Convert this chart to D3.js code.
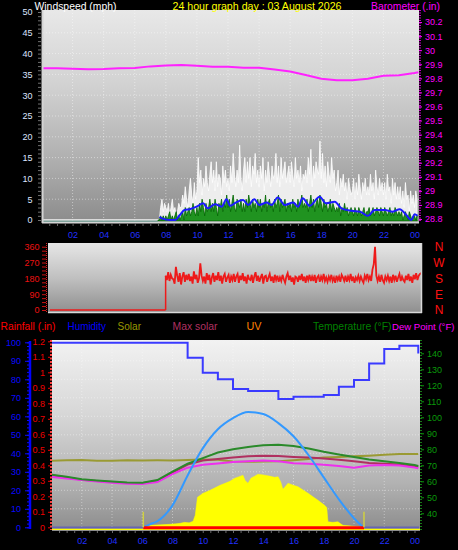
<!DOCTYPE html>
<html><head><meta charset="utf-8">
<script src="https://cdn.jsdelivr.net/npm/d3@7"></script>
<style>body{margin:0;background:#000;overflow:hidden}svg{display:block}</style>
</head><body>
<svg id="c" width="458" height="550"></svg>
<script>
// ---------------- DATA ----------------
const hourTicks = [2,4,6,8,10,12,14,16,18,20,22,24];
const hourLabels = ["02","04","06","08","10","12","14","16","18","20","22","00"];

// Panel 1 : wind (mph) and barometer (in)
const windTicks = [0,5,10,15,20,25,30,35,40,45,50];
const baroTicks = [28.8,28.9,29.0,29.1,29.2,29.3,29.4,29.5,29.6,29.7,29.8,29.9,30.0,30.1,30.2];
const baroTickLabels = ["28.8","28.9","29","29.1","29.2","29.3","29.4","29.5","29.6","29.7","29.8","29.9","30","30.1","30.2"];
const baroHours = [0,1,2,3,4,5,6,7,8,9,10,11,12,13,14,15,16,17,18,19,20,21,22,23,24,24.25];
const baro = [29.871,29.871,29.868,29.864,29.866,29.871,29.874,29.885,29.891,29.894,29.889,29.882,29.882,29.876,29.875,29.862,29.849,29.823,29.797,29.786,29.786,29.797,29.818,29.822,29.838,29.843];
const calmSpan = [0.1, 7.5];          // hours with zero wind
const windStart = 7.5;               // first 5-minute sample (hour)
const windStep = 1/12;               // 5 minutes
const gust = [
0,0,3,5,2,4,
3,2,4,1,3,5,2,3,1,2,4,3,
3,6,4,8,5,3,7,10,6,4,9,5,
7,15,9,12,6,10,8,13,9,7,11,14,
9,12,7,14,8,11,10,6,13,9,12,8,
10,7,13,9,16,11,8,12,9,18,10,7,
12,15,9,14,10,15,8,13,11,16,9,12,
8,13,10,15,7,12,9,14,11,8,13,10,
11,16,9,13,8,15,10,12,14,9,11,13,
9,14,11,8,15,10,12,9,13,7,11,10,
12,9,15,11,17,8,13,10,14,12,11,19,
10,16,9,13,8,14,11,9,15,10,12,7,
9,12,6,10,8,11,7,9,5,10,8,6,
7,10,5,9,6,11,8,5,9,7,10,6,
8,6,11,7,9,5,12,8,6,10,7,9,
6,9,5,11,7,8,4,10,6,9,5,8,
5,8,4,7,3,9,5,6,2,7,4,6,
3,7,5];
const windSpd = [
0,0,1,0,1,0,
1,0,1,2,0,1,0,1,2,0,1,0,
1,2,0,3,1,2,3,1,2,4,2,1,
3,1,4,2,5,3,1,4,2,3,5,2,
4,2,5,3,1,4,3,5,2,4,3,6,
3,5,2,4,6,3,2,5,4,3,5,2,
4,2,5,3,6,4,2,5,3,4,2,5,
3,5,2,4,3,6,2,4,5,3,4,2,
5,3,4,6,2,5,3,4,5,2,4,3,
4,2,5,3,4,2,5,3,4,6,3,4,
3,5,2,4,6,3,5,2,4,5,3,6,
4,2,5,3,4,2,3,5,2,4,3,2,
3,2,4,1,3,2,4,2,3,1,2,3,
2,1,3,2,1,3,2,1,2,3,1,2,
2,3,1,2,3,1,2,3,2,1,3,2,
1,3,2,1,2,3,1,2,1,3,2,1,
2,1,2,0,1,2,1,0,2,1,0,1,
1,0,1];
const avgHours = [7.6,7.75,8.27,8.6,8.9,9.2,9.55,9.98,10.4,10.7,11.16,11.6,11.9,12.15,12.5,12.97,13.3,13.7,14.0,14.5,14.8,15.2,15.65,16.2,16.5,16.8,17.26,17.9,18.3,18.87,19.3,19.94,20.5,21.0,21.44,22.1,22.6,23.05,23.47,23.8,24.0,24.2];
const avgWind = [0.8,0.4,0,0,1.2,2.4,2.6,3.2,4,2.8,3.8,3.2,5,3.4,4.2,4.8,3.6,5,3.6,4.2,3.6,5.4,3.6,4.2,3.2,5.2,3.4,5.6,4,4.4,2.8,2.2,2,1,2.4,2.4,2,2.6,1.2,0,1.4,1];

// Panel 2 : wind direction (degrees)
const dirTicks = [0,90,180,270,360];
const compassLabels = ["N","E","S","W","N"];
const dirCalmSpan = [0, 7.5];
const dirStart = 7.5, dirStep = 1/12;
const direction = [
195,170,215,165,200,180,
175,150,245,195,160,210,145,190,215,160,200,170,
205,165,190,150,220,175,200,155,180,265,195,165,
190,150,210,170,200,145,185,210,160,195,170,215,
165,195,150,190,205,160,185,200,155,190,170,205,
160,190,205,155,195,170,210,165,190,150,200,175,
170,200,155,190,215,165,195,160,185,205,150,190,
195,160,185,205,165,190,155,200,170,195,160,185,
165,200,175,155,190,210,170,195,160,185,145,190,
185,160,195,170,205,165,190,155,195,170,200,165,
190,165,200,155,185,195,160,190,170,205,165,185,
160,190,170,200,165,185,155,195,170,190,160,200,
185,165,195,160,190,170,205,165,190,155,185,170,
195,165,190,170,155,195,175,205,170,190,165,230,
260,360,195,165,190,160,200,170,155,190,170,195,
165,190,155,200,170,195,160,185,205,165,190,170,
160,195,170,205,165,190,155,200,175,210,170,195,
205,210,205];

// Panel 3 : rain / humidity / solar / temperatures
const humTicks = [0,10,20,30,40,50,60,70,80,90,100];
const rainTicks = [0,0.1,0.2,0.3,0.4,0.5,0.6,0.7,0.8,0.9,1.0,1.1,1.2];
const rainTickLabels = ["0","0.1","0.2","0.3","0.4","0.5","0.6","0.7","0.8","0.9","1","1.1","1.2"];
const tempTicks = [40,50,60,70,80,90,100,110,120,130,140];
const hrs = [0,1,2,3,4,5,6,7,8,9,10,11,12,13,14,15,16,17,18,19,20,21,22,23,24,24.25];
const humidity = [99.7,99.7,99.7,99.7,99.7,99.7,99.7,99.7,99.7,91.6,83.5,80,74.8,73.7,73.7,69.3,70.6,70.6,71.5,76,79.6,88.6,96.4,98.2,98.2,94];
const temperature = [64.2,62.8,61.3,60.5,59.8,59.2,59.1,60.8,66,71,74.5,78,80,81.5,82.5,82.8,82,80.5,78.5,76.8,75.2,73.6,72.6,71.5,70.2,69.6];
const dewPoint = [62.8,61.8,60.8,59.8,59.1,58.5,58.3,59.5,64.5,68.5,70.3,71.2,72,72.6,73,72.6,71.3,71,70.4,69.6,68.4,69.8,70.2,69.8,68.6,68.1];
const apparent = [63.8,62.4,61,60.2,59.5,59,58.8,60.3,65.5,70.5,73,74,74.8,75.6,76,75.8,75.2,74.8,74.3,73.5,72.5,71.5,71,70.5,69.4,69.1];
const indoor = [72.9,73.2,73.3,72.8,72.9,73.2,73,73.1,73,73.3,73.6,73.4,72.4,72.2,72.3,72.6,73.2,74,74.8,75.2,75.6,76,76.6,77,77.1,77.1];
const maxSolarHours = [6.07,6.5,7,8,9,10,11,12,13,14,15,16,17,18,19,20,20.6];
const maxSolar = [0,24,49,178,420,640,795,885,935,918,845,738,584,405,227,73,0];
const solarHours = [6.07,6.2,6.6,7.2,7.8,8.2,8.5,8.8,9.1,9.36,9.5,9.65,10.0,10.48,11.14,11.8,12.11,12.4,12.66,12.8,12.99,13.2,13.43,13.65,14.0,14.4,14.76,14.98,15.15,15.3,15.64,16.0,16.3,16.96,17.62,18.06,18.2,18.28,18.6,18.94,19.1,19.27,20.05,20.6];
const solar = [0,4,16,20,24,28,32,40,36,49,97,243,275,300,340,373,397,410,422,380,357,400,414,430,425,415,405,410,370,308,357,340,329,276,219,178,160,45,40,45,30,16,8,0];
const sunEvents = [6.07, 20.66];     // sunrise / sunset markers
const rainHours = [6.07, 20.66];
const rainfall = [0, 0];

// ---------------- DRAWING ----------------
const FONT = '"Liberation Sans", Arial, sans-serif';
const svg = d3.select("#c");
const defs = svg.append("defs");
function grad(id, stops){
  const g = defs.append("linearGradient").attr("id",id).attr("x1",0).attr("y1",0).attr("x2",0).attr("y2",1);
  stops.forEach(([o,c]) => g.append("stop").attr("offset",o).attr("stop-color",c));
}
function clip(id,x,y,w,h){ defs.append("clipPath").attr("id",id).append("rect").attr("x",x).attr("y",y).attr("width",w).attr("height",h); }
grad("g1", [[0,"#e8e8e8"],[0.35,"#d2d2d2"],[0.7,"#b0b0b0"],[1,"#8c8c8c"]]);
grad("g2", [[0,"#e6e6e6"],[0.5,"#c0c0c0"],[1,"#8e8e8e"]]);
grad("g3", [[0,"#f2f2f2"],[0.4,"#d6d6d6"],[0.75,"#b2b2b2"],[1,"#8c8c8c"]]);
clip("c1", 43, 10, 376, 212);
clip("c2", 48, 243, 374, 69);
clip("c3", 52, 340, 368, 190);

function styleAxis(g, color, size){
  g.attr("font-family", FONT).attr("font-size", size || 9);
  g.select(".domain").remove();
  g.selectAll("text").attr("fill", color);
  g.selectAll("line").attr("stroke", color);
  return g;
}
function label(txt, x, y, w, color, size){
  const t = svg.append("text").attr("x",x).attr("y",y).attr("fill",color)
    .attr("font-family",FONT).attr("font-size",size||11).text(txt);
  if (w) t.attr("textLength",w).attr("lengthAdjust","spacingAndGlyphs");
}

// ===== Panel 1 =====
const xW = d3.scaleLinear([0,24],[41.5,414.5]);
const yW = d3.scaleLinear([0,50],[220,12]);
const yB = d3.scaleLinear([28.8,30.3],[219,8]);

svg.append("rect").attr("x",43).attr("y",10).attr("width",376).attr("height",212).attr("fill","url(#g1)");
const p1 = svg.append("g").attr("clip-path","url(#c1)");
p1.selectAll(".hg").data(windTicks.slice(1,-1)).join("line")
  .attr("x1",43).attr("x2",419).attr("y1",d=>yW(d)).attr("y2",d=>yW(d))
  .attr("stroke","#fff").attr("stroke-opacity",0.45).attr("stroke-dasharray","1,2");
p1.selectAll(".vg").data(hourTicks.slice(0,-1)).join("line")
  .attr("x1",d=>xW(d)).attr("x2",d=>xW(d)).attr("y1",10).attr("y2",222)
  .attr("stroke","#fff").attr("stroke-opacity",0.45).attr("stroke-dasharray","1,2");
p1.append("path").datum(baro).attr("fill","none").attr("stroke","#ff22ff").attr("stroke-width",2)
  .attr("d", d3.line().x((d,i)=>xW(baroHours[i])).y(d=>yB(d)));
p1.append("line").attr("x1",xW(calmSpan[0])).attr("x2",xW(calmSpan[1])).attr("y1",yW(0)).attr("y2",yW(0))
  .attr("stroke","#f4f4f4").attr("stroke-width",1.5);
p1.append("line").attr("x1",xW(calmSpan[0])).attr("x2",xW(calmSpan[1])).attr("y1",yW(0)+1.6).attr("y2",yW(0)+1.6)
  .attr("stroke","#2a7060").attr("stroke-width",1.5);
p1.append("path").datum(gust).attr("fill","#f3f3f3").attr("fill-opacity",0.93)
  .attr("stroke","#ffffff").attr("stroke-width",0.8)
  .attr("d", d3.area().x((d,i)=>xW(windStart+i*windStep)).y0(yW(0)).y1(d=>yW(d)));
p1.append("path").datum(windSpd).attr("fill","#0a8a0a").attr("fill-opacity",0.9)
  .attr("stroke","#006400").attr("stroke-width",0.8)
  .attr("d", d3.area().x((d,i)=>xW(windStart+i*windStep)).y0(yW(0)+1).y1(d=>yW(d)));
p1.append("path").datum(avgWind).attr("fill","none").attr("stroke","#1a1aff").attr("stroke-width",2)
  .attr("d", d3.line().curve(d3.curveMonotoneX).x((d,i)=>xW(avgHours[i])).y(d=>yW(d)));
svg.append("line").attr("x1",42.5).attr("x2",42.5).attr("y1",10).attr("y2",223).attr("stroke","#d4d4d4").attr("stroke-width",2);
svg.append("line").attr("x1",42).attr("x2",419).attr("y1",222.5).attr("y2",222.5).attr("stroke","#d4d4d4").attr("stroke-width",2);
styleAxis(svg.append("g").attr("transform","translate(41,0)")
  .call(d3.axisLeft(yW).tickValues(windTicks).tickSize(0).tickPadding(8.5)), "#dde4ff");
styleAxis(svg.append("g").attr("transform","translate(41,0)")
  .call(d3.axisLeft(yW).tickValues(d3.range(0,50.5,1)).tickSize(3).tickFormat(()=>"")), "#707070");
styleAxis(svg.append("g").attr("transform","translate(0,225)")
  .call(d3.axisBottom(xW).tickValues(hourTicks).tickSize(0).tickPadding(6.5).tickFormat((d,i)=>hourLabels[i])), "#2030ff");
styleAxis(svg.append("g").attr("transform","translate(0,224)")
  .call(d3.axisBottom(xW).tickValues(d3.range(0.5,24.1,0.5)).tickSize(2).tickFormat(()=>"")), "#6a6a6a");
svg.append("line").attr("x1",420).attr("x2",420).attr("y1",10).attr("y2",222)
  .attr("stroke","#ff00ff").attr("stroke-width",1.5).attr("stroke-dasharray","1,1.5");
styleAxis(svg.append("g").attr("transform","translate(419,0)")
  .call(d3.axisRight(yB).tickValues(baroTicks).tickSize(3).tickPadding(3).tickFormat((d,i)=>baroTickLabels[i])), "#ff00ff");

// ===== Panel 2 =====
const xD = d3.scaleLinear([0,24],[50,420]);
const yD = d3.scaleLinear([0,360],[310,246.7]);
svg.append("rect").attr("x",48).attr("y",243).attr("width",374).attr("height",70).attr("fill","url(#g2)");
const p2 = svg.append("g").attr("clip-path","url(#c2)");
p2.append("line").attr("x1",xD(dirCalmSpan[0])).attr("x2",xD(dirCalmSpan[1])).attr("y1",yD(0)).attr("y2",yD(0))
  .attr("stroke","#ee1a1a").attr("stroke-width",1.5);
p2.append("line").attr("x1",xD(dirCalmSpan[1])).attr("x2",xD(dirCalmSpan[1])).attr("y1",yD(0)).attr("y2",yD(direction[0]))
  .attr("stroke","#ee1a1a").attr("stroke-width",1.5);
p2.append("path").datum(direction).attr("fill","none").attr("stroke","#ee1a1a").attr("stroke-width",1.8)
  .attr("d", d3.line().x((d,i)=>xD(dirStart+i*dirStep)).y(d=>yD(d)));
svg.append("line").attr("x1",48).attr("x2",422).attr("y1",312.5).attr("y2",312.5).attr("stroke","#d8d8d8").attr("stroke-width",1.5);
svg.append("line").attr("x1",421.5).attr("x2",421.5).attr("y1",243).attr("y2",313).attr("stroke","#d8d8d8").attr("stroke-width",1.5);
svg.append("line").attr("x1",46.5).attr("x2",46.5).attr("y1",243).attr("y2",312).attr("stroke","#dd2222").attr("stroke-width",1).attr("stroke-dasharray","1,1");
styleAxis(svg.append("g").attr("transform","translate(46,0)")
  .call(d3.axisLeft(yD).tickValues(dirTicks).tickSize(0).tickPadding(6.5)), "#ee1111");
styleAxis(svg.append("g").attr("transform","translate(46,0)")
  .call(d3.axisLeft(yD).tickValues(d3.range(0,361,22.5)).tickSize(4).tickFormat(()=>"")), "#cc1111");
const comp = styleAxis(svg.append("g").attr("transform","translate(433,0)")
  .call(d3.axisRight(yD).tickValues(dirTicks).tickSize(0).tickPadding(6).tickFormat((d,i)=>compassLabels[i])), "#ff1010", 12);
comp.selectAll("text").attr("text-anchor","middle");

// ===== Panel 3 =====
const xS = d3.scaleLinear([0,24],[51.5,414.5]);
const yH = d3.scaleLinear([0,100],[527.3,342.3]);
const yR = d3.scaleLinear([0,1.2],[527.3,341.3]);
const yT = d3.scaleLinear([30,140],[529.3,353.3]);
const ySol = d3.scaleLinear([0,1500],[527.3,342.3]);
svg.append("rect").attr("x",52).attr("y",340).attr("width",368).attr("height",191).attr("fill","url(#g3)");
const p3 = svg.append("g").attr("clip-path","url(#c3)");
p3.selectAll(".hg").data(humTicks.slice(1,-1)).join("line")
  .attr("x1",52).attr("x2",420).attr("y1",d=>yH(d)).attr("y2",d=>yH(d))
  .attr("stroke","#fff").attr("stroke-opacity",0.4).attr("stroke-dasharray","1,2");
p3.selectAll(".vg").data(hourTicks.slice(0,-1)).join("line")
  .attr("x1",d=>xS(d)).attr("x2",d=>xS(d)).attr("y1",340).attr("y2",530)
  .attr("stroke","#fff").attr("stroke-opacity",0.4).attr("stroke-dasharray","1,2");
p3.append("path").datum(solar).attr("fill","#ffff00").attr("stroke","#ffff00").attr("stroke-width",0.5)
  .attr("d", d3.area().x((d,i)=>xS(solarHours[i])).y0(ySol(0)).y1(d=>ySol(d)));
const tl = arr => d3.line().x((d,i)=>xS(hrs[i])).y(d=>yT(d))(arr);
p3.append("path").attr("d",tl(indoor)).attr("fill","none").attr("stroke","#9a9a33").attr("stroke-width",2);
p3.append("path").attr("d",tl(apparent)).attr("fill","none").attr("stroke","#b03060").attr("stroke-width",2);
p3.append("path").attr("d",tl(dewPoint)).attr("fill","none").attr("stroke","#ee30ee").attr("stroke-width",2);
p3.append("path").attr("d",tl(temperature)).attr("fill","none").attr("stroke","#2a8a2a").attr("stroke-width",2);
p3.append("path").datum(maxSolar).attr("fill","none").attr("stroke","#3399ff").attr("stroke-width",2)
  .attr("d", d3.line().curve(d3.curveMonotoneX).x((d,i)=>xS(maxSolarHours[i])).y(d=>ySol(d)));
p3.append("path").datum(humidity).attr("fill","none").attr("stroke","#3a3aff").attr("stroke-width",2)
  .attr("d", d3.line().curve(d3.curveStepAfter).x((d,i)=>xS(hrs[i])).y(d=>yH(d)));
p3.append("line").attr("x1",52).attr("x2",420).attr("y1",yR(0)+2.6).attr("y2",yR(0)+2.6).attr("stroke","#ffff00").attr("stroke-width",2.2);
p3.append("line").attr("x1",xS(0)).attr("x2",xS(sunEvents[0])).attr("y1",yR(0)).attr("y2",yR(0)).attr("stroke","#6464b4").attr("stroke-width",1.8);
p3.append("line").attr("x1",xS(sunEvents[1])).attr("x2",xS(24.3)).attr("y1",yR(0)).attr("y2",yR(0)).attr("stroke","#6464b4").attr("stroke-width",1.8);
p3.append("path").datum(rainfall).attr("fill","none").attr("stroke","#ff0000").attr("stroke-width",3)
  .attr("d", d3.line().x((d,i)=>xS(rainHours[i])).y(d=>yR(d)+0.5));
p3.selectAll(".sun").data(sunEvents).join("line")
  .attr("x1",d=>xS(d)).attr("x2",d=>xS(d)).attr("y1",yR(0)).attr("y2",yR(0.1))
  .attr("stroke","#d0d040").attr("stroke-width",1.5);
svg.append("line").attr("x1",30).attr("x2",30).attr("y1",341).attr("y2",529).attr("stroke","#0000ff").attr("stroke-width",2.5);
styleAxis(svg.append("g").attr("transform","translate(29,0)")
  .call(d3.axisLeft(yH).tickValues(humTicks).tickSize(4).tickPadding(4)), "#0a0aff");
styleAxis(svg.append("g").attr("transform","translate(29,0)")
  .call(d3.axisLeft(yH).tickValues(d3.range(0,100.1,2)).tickSize(2).tickFormat(()=>"")), "#0a0aff");
svg.append("line").attr("x1",51).attr("x2",51).attr("y1",340).attr("y2",530).attr("stroke","#ff4040").attr("stroke-width",2).attr("stroke-dasharray","2,1.5");
styleAxis(svg.append("g").attr("transform","translate(50,0)")
  .call(d3.axisLeft(yR).tickValues(rainTicks).tickSize(2).tickPadding(3).tickFormat((d,i)=>rainTickLabels[i])), "#ee0000");
svg.append("line").attr("x1",421).attr("x2",421).attr("y1",340).attr("y2",530).attr("stroke","#20a020").attr("stroke-width",1.5).attr("stroke-dasharray","1,2");
styleAxis(svg.append("g").attr("transform","translate(421,0)")
  .call(d3.axisRight(yT).tickValues(tempTicks).tickSize(3).tickPadding(3)), "#0a9a0a");
styleAxis(svg.append("g").attr("transform","translate(0,531)")
  .call(d3.axisBottom(xS).tickValues(hourTicks).tickSize(0).tickPadding(7).tickFormat((d,i)=>hourLabels[i])), "#2030ff");
styleAxis(svg.append("g").attr("transform","translate(0,531)")
  .call(d3.axisBottom(xS).tickValues(d3.range(0.5,24.1,0.5)).tickSize(2).tickFormat(()=>"")), "#6a6a6a");

// ===== Titles & legend =====
label("Windspeed (mph)", 34.5, 9.5, 82, "#ffffff");
label("24 hour graph day : 03 August 2026", 172.5, 9.5, 169, "#ffff00");
label("Barometer (.in)", 371, 9.5, 69, "#ff00ff");
label("Rainfall (.in)", 0.5, 329.5, 55, "#ff0000");
label("Humidity", 67.5, 329.5, 38.5, "#0000ff");
label("Solar", 117.5, 329.5, 23.5, "#999900");
label("Max solar", 172.5, 329.5, 45, "#b03060");
label("UV", 246.5, 329.5, 15, "#ff8000");
label("Temperature (°F)", 313, 329.5, 78.5, "#008000");
label("Dew Point (°F)", 392, 329.5, null, "#ff00ff", 9.6);
</script>
</body></html>
